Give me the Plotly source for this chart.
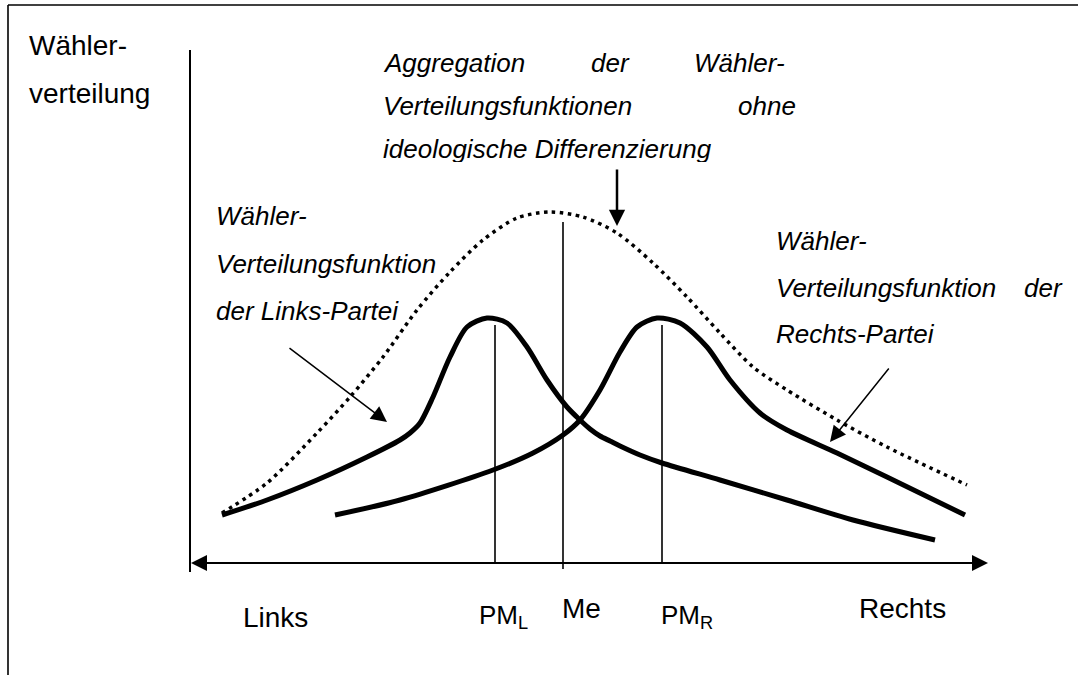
import plotly.graph_objects as go

# ---------------- data (x = ideological position, h = height above the axis) -------------
x_links = [222, 267, 317, 367, 400, 410, 420, 433, 450, 467, 487, 507, 527, 547, 567, 580, 590, 600, 610, 620, 640, 662, 720, 787, 853, 935]
h_links = [48, 63, 83, 106, 123, 130, 140, 166, 206, 236, 245, 240, 216, 183, 156, 143, 134, 127, 122, 117, 108, 100, 83, 63, 43, 23]

x_rechts = [335, 400, 493, 533, 563, 580, 600, 620, 637, 657, 680, 707, 730, 760, 787, 837, 887, 965]
h_rechts = [48, 63, 93, 110, 128, 143, 173, 211, 236, 245, 240, 216, 183, 150, 133, 110, 86, 48]

x_aggr = [222, 267, 317, 350, 383, 417, 450, 483, 517, 550, 583, 617, 653, 687, 720, 753, 787, 837, 887, 967]
h_aggr = [50, 80, 130, 166, 206, 253, 291, 323, 345, 351, 346, 330, 300, 266, 230, 196, 173, 143, 116, 78]

marker_names = ["PM<sub>L</sub>", "Me", "PM<sub>R</sub>"]
marker_x = [495, 563, 662]
marker_top = [238, 341, 238]
marker_bottom = [0, -6, 0]

axis_left, axis_right = 191, 988
yaxis_x, yaxis_top, yaxis_bottom = 190, 513, -9

# pointer arrows: (tail x, tail h, tip x, tip h, line width, head scale)
pointers = [(288, 216, 387, 141, 1.5, 2.1),
            (890, 196, 830, 121, 1.5, 2.1),
            (617, 395, 617, 337, 2.5, 1.3)]

FONT = "Liberation Sans, Arial, sans-serif"
BLACK = "#000000"

fig = go.Figure()

# aggregate (dotted)
fig.add_trace(go.Scatter(x=x_aggr, y=h_aggr, mode="lines",
                         line=dict(color=BLACK, width=3.5, dash="3.5px,4.5px", shape="spline", smoothing=0.8),
                         hoverinfo="skip", showlegend=False))
# left party
fig.add_trace(go.Scatter(x=x_links, y=h_links, mode="lines",
                         line=dict(color=BLACK, width=5, shape="spline", smoothing=0.8),
                         hoverinfo="skip", showlegend=False))
# right party
fig.add_trace(go.Scatter(x=x_rechts, y=h_rechts, mode="lines",
                         line=dict(color=BLACK, width=5, shape="spline", smoothing=0.8),
                         hoverinfo="skip", showlegend=False))

shapes = []
# vertical marker lines
for mx, mt, mb in zip(marker_x, marker_top, marker_bottom):
    shapes.append(dict(type="line", xref="x", yref="y", x0=mx, x1=mx, y0=mb, y1=mt,
                       line=dict(color=BLACK, width=1.6)))
# y axis line
shapes.append(dict(type="line", xref="x", yref="y", x0=yaxis_x, x1=yaxis_x, y0=yaxis_bottom, y1=yaxis_top,
                   line=dict(color=BLACK, width=2)))
# x axis line
shapes.append(dict(type="line", xref="x", yref="y", x0=axis_left + 8, x1=axis_right - 8, y0=0, y1=0,
                   line=dict(color=BLACK, width=2)))
# frame (top and left)
shapes.append(dict(type="line", xref="x", yref="y", x0=8, x1=1078, y0=558, y1=558,
                   line=dict(color=BLACK, width=1.6)))
shapes.append(dict(type="line", xref="x", yref="y", x0=8, x1=8, y0=558, y1=-120,
                   line=dict(color=BLACK, width=1.6)))

ann = []
mid = (axis_left + axis_right) / 2
# x axis arrow heads
for tip in (axis_left, axis_right):
    ann.append(dict(x=tip, y=0, ax=mid, ay=0, xref="x", yref="y", axref="x", ayref="y",
                    text="", showarrow=True, arrowhead=2, arrowsize=1.6, arrowwidth=2,
                    arrowcolor=BLACK, standoff=0))
# pointer arrows
for (tx, ty, hx, hy, w, s) in pointers:
    ann.append(dict(x=hx, y=hy, ax=tx, ay=ty, xref="x", yref="y", axref="x", ayref="y",
                    text="", showarrow=True, arrowhead=2, arrowsize=s, arrowwidth=w,
                    arrowcolor=BLACK, standoff=0))


def txt(x, y, t, size, italic=False, **kw):
    d = dict(x=x, y=y, xref="x", yref="y", text=t, showarrow=False, xanchor="left",
             yanchor="middle", borderpad=0,
             font=dict(family=FONT, size=size, color=BLACK, style="italic" if italic else "normal"))
    d.update(kw)
    ann.append(d)


# y label
txt(28, 518, "Wähler-", 28)
txt(28, 470, "verteilung", 28)
# x labels
txt(242, -54, "Links", 28)
txt(858, -45, "Rechts", 28)
txt(561, -45, "Me", 28)
txt(478, -53, marker_names[0], 26)
txt(660, -53, marker_names[2], 26)

# top italic label (justified)
txt(382, 500, "Aggregation", 26, True)
txt(590, 500, "der", 26, True)
txt(693, 500, "Wähler-", 26, True)
txt(382, 457, "Verteilungsfunktionen", 26, True)
txt(737, 457, "ohne", 26, True)
txt(382, 430, "ideologische Differenzierung", 26, True, yanchor="top", height=28, valign="top")

# left italic label
txt(215, 347, "Wähler-", 26, True)
txt(215, 299, "Verteilungsfunktion", 26, True)
txt(215, 252, "der Links-Partei", 26, True)

# right italic label
txt(775, 322, "Wähler-", 26, True)
txt(775, 275, "Verteilungsfunktion", 26, True)
txt(1023, 275, "der", 26, True)
txt(775, 229, "Rechts-Partei", 26, True)

fig.update_layout(
    width=1078, height=675,
    margin=dict(l=0, r=0, t=0, b=0),
    paper_bgcolor="white", plot_bgcolor="white",
    xaxis=dict(range=[0, 1078], visible=False, fixedrange=True),
    yaxis=dict(range=[-112, 563], visible=False, fixedrange=True),
    shapes=shapes, annotations=ann, showlegend=False,
)

fig.write_html("out.html", config={"displayModeBar": False},
               post_script="document.body.style.margin='0px';document.body.style.overflow='hidden';")
